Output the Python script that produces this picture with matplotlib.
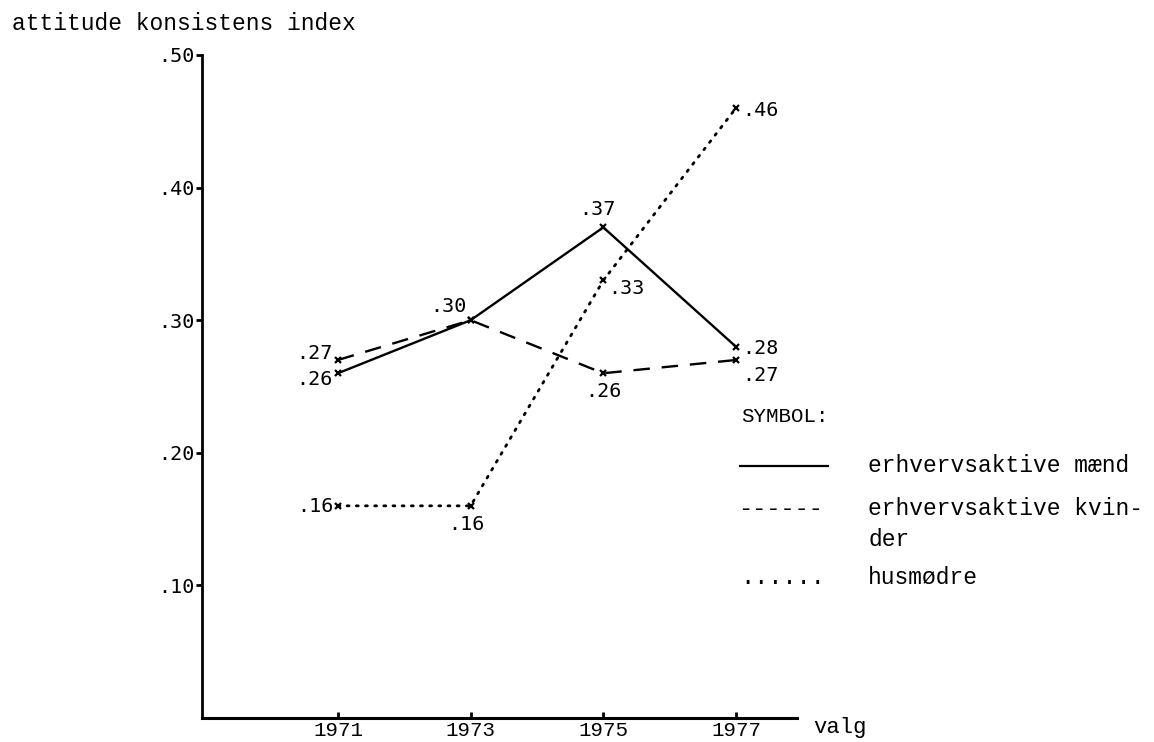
import matplotlib.pyplot as plt
from matplotlib.lines import Line2D

years = [1971, 1973, 1975, 1977]
maend = [0.26, 0.30, 0.37, 0.28]
kvinder = [0.27, 0.30, 0.26, 0.27]
husmodre = [0.16, 0.16, 0.33, 0.46]
yticks = [0.10, 0.20, 0.30, 0.40, 0.50]
series_names = ["erhvervsaktive mænd", "erhvervsaktive kvin-\nder", "husmødre"]

W, H = 1154, 742
typ = "Liberation Mono"
num = "DejaVu Sans Mono"


def px(x, y):
    # pixel position (from top left) -> figure fraction
    return x / W, 1 - y / H


fig = plt.figure(figsize=(W / 100, H / 100), dpi=100)
ax = fig.add_axes([202 / W, (H - 718) / H, 595 / W, 663 / H])
ax.set_xlim(1968.95, 1977.92)
ax.set_ylim(0, 0.5)

ax.plot(years, maend, color="black", lw=1.7, ls="-",
        marker="x", ms=4, mew=1.6)
ax.plot(years, kvinder, color="black", lw=1.7, ls=(0, (7, 5)),
        marker="x", ms=4, mew=1.6)
ax.plot(years, husmodre, color="black", lw=2.0, ls=(0, (0.7, 2.6)),
        dash_capstyle="round", marker="x", ms=4, mew=1.6)

# value labels: (offset in pixels, ha, va)
offs_m = [((-5, -6), "right", "center"), ((-4, 4), "right", "bottom"),
          ((-6, 8), "center", "bottom"), ((6, -2), "left", "center")]
offs_k = [((-5, 6), "right", "center"), None,
          ((0, -9), "center", "top"), ((6, -16), "left", "center")]
offs_h = [((-4, -1), "right", "center"), ((-4, -9), "center", "top"),
          ((5, -8), "left", "center"), ((6, -2), "left", "center")]

for vals, offs in [(maend, offs_m), (kvinder, offs_k), (husmodre, offs_h)]:
    for x, v, o in zip(years, vals, offs):
        if o is None:
            continue
        (dx, dy), ha, va = o
        ax.annotate(f"{v:.2f}"[1:], (x, v), xytext=(dx, dy),
                    textcoords="offset pixels", ha=ha, va=va,
                    fontsize=14.5, family=num)

ax.spines["top"].set_visible(False)
ax.spines["right"].set_visible(False)
ax.spines["left"].set_linewidth(2)
ax.spines["bottom"].set_linewidth(2.2)

ax.set_yticks(yticks)
ax.set_yticklabels([f"{t:.2f}"[1:] for t in yticks], family=num, fontsize=14.5)
ax.set_xticks(years)
ax.set_xticklabels([str(y) for y in years], family=typ, fontsize=15)
ax.tick_params(axis="y", length=4, width=2, pad=1)
ax.tick_params(axis="x", length=4, width=2, pad=2.5, direction="in")

fig.text(*px(12, 24), "attitude konsistens index", family=typ,
         fontsize=16.5, va="center")
fig.text(*px(813, 728), "valg", family=typ, fontsize=16, va="center")

# legend, typed beside the plot
fig.text(*px(741, 417), "SYMBOL:", family=typ, fontsize=15, va="center")
fig.add_artist(Line2D([740 / W, 828 / W], [1 - 466 / H, 1 - 466 / H],
                      color="black", lw=1.6))
fig.text(*px(738, 508), "------", family=typ, fontsize=17, va="center")
fig.text(*px(740, 578), "......", family=typ, fontsize=17, va="center")
for name, y in zip(series_names, [466, 497, 578]):
    fig.text(*px(868, y), name, family=typ, fontsize=16.5,
             va="top" if "\n" in name else "center", linespacing=1.45)

fig.savefig("out.png", dpi=100)
